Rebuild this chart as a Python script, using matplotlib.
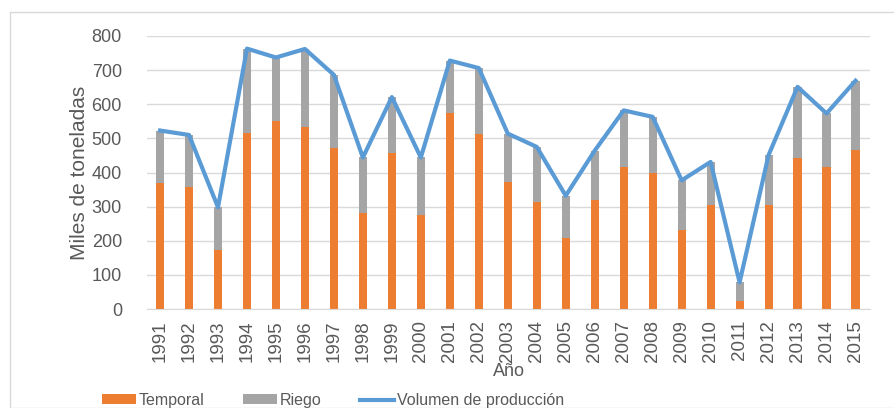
import numpy as np
import matplotlib.pyplot as plt
from matplotlib.patches import Rectangle

plt.rcParams['font.family'] = ['Liberation Sans', 'DejaVu Sans']

years = [str(y) for y in range(1991, 2016)]
temporal = [368, 358, 174, 517, 552, 534, 472, 280, 457, 275, 573, 514, 372, 314, 207,
            320, 416, 399, 232, 305, 22, 305, 442, 416, 467]
total = [523, 510, 298, 763, 737, 762, 686, 444, 621, 444, 728, 706, 514, 475, 332,
         464, 582, 563, 377, 431, 78, 451, 651, 573, 669]
riego = [t - p for t, p in zip(total, temporal)]

c_temp = '#ED7D31'
c_riego = '#A5A5A5'
c_line = '#5B9BD5'
c_text = '#595959'

fig = plt.figure(figsize=(8.94, 4.08), dpi=100)
ax = fig.add_axes([147/894, 1-309/408, (870-147)/894, (309-36)/408])

x = np.arange(len(years))
b1 = ax.bar(x, temporal, width=0.28, color=c_temp, label='Temporal', zorder=2)
b2 = ax.bar(x, riego, width=0.28, bottom=temporal, color=c_riego, label='Riego', zorder=2)
l1, = ax.plot(x, total, color=c_line, linewidth=3, label='Volumen de producción', zorder=3)

ax.set_ylim(0, 800)
ax.set_xlim(-0.45, len(years) - 0.5)
ax.set_yticks(range(0, 801, 100))
ax.set_xticks(x)
ax.set_xticklabels(years, rotation=90, fontsize=13.5)
ax.yaxis.grid(True, color='#D9D9D9', linewidth=1, zorder=0)
ax.set_axisbelow(True)
for s in ['top', 'right', 'left']:
    ax.spines[s].set_visible(False)
ax.spines['bottom'].set_color('#D9D9D9')
ax.tick_params(axis='both', length=0, colors=c_text)
ax.tick_params(axis='y', pad=18, labelsize=13)
ax.tick_params(axis='x', pad=8)
ax.set_ylabel('Miles de toneladas', color=c_text, fontsize=15, labelpad=2)
ax.set_xlabel('Año', color=c_text, fontsize=13, labelpad=1)

fig.legend(handles=[b1, b2, l1], loc='lower left', bbox_to_anchor=(88/894, -0.035),
           ncol=3, frameon=False, fontsize=11.5, labelcolor=c_text,
           handlelength=2.1, handleheight=0.6, columnspacing=2.4, handletextpad=0.2)

fig.patches.append(Rectangle((10/894, 0), 1, 1-12/408, transform=fig.transFigure,
                             fill=False, edgecolor='#D9D9D9', linewidth=1))

fig.savefig('out.png', dpi=100)
